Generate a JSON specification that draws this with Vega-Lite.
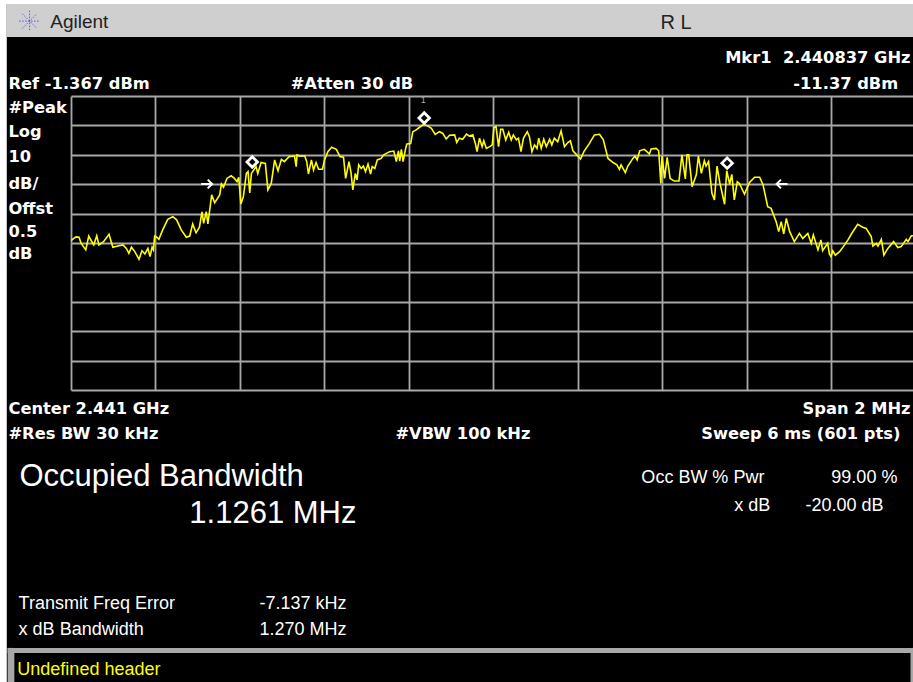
{"$schema":"https://vega.github.io/schema/vega-lite/v6.json","width":842,"height":294,"autosize":"none","padding":{"left":71,"top":96,"right":0,"bottom":292},"background":"#000000","view":{"stroke":null,"fill":"#000000"},
"datasets":{
"trace":[{"freq_khz":0,"level_dbm":-50.6},{"freq_khz":6,"level_dbm":-49.9},{"freq_khz":12,"level_dbm":-49.3},{"freq_khz":19,"level_dbm":-49.4},{"freq_khz":24,"level_dbm":-51.5},{"freq_khz":35,"level_dbm":-53.7},{"freq_khz":42,"level_dbm":-49.0},{"freq_khz":48,"level_dbm":-50.6},{"freq_khz":54,"level_dbm":-52.0},{"freq_khz":61,"level_dbm":-48.9},{"freq_khz":66,"level_dbm":-52.0},{"freq_khz":77,"level_dbm":-50.9},{"freq_khz":90,"level_dbm":-48.4},{"freq_khz":99,"level_dbm":-52.8},{"freq_khz":111,"level_dbm":-52.4},{"freq_khz":123,"level_dbm":-52.0},{"freq_khz":131,"level_dbm":-53.2},{"freq_khz":137,"level_dbm":-54.9},{"freq_khz":143,"level_dbm":-52.8},{"freq_khz":151,"level_dbm":-54.3},{"freq_khz":161,"level_dbm":-56.9},{"freq_khz":168,"level_dbm":-54.0},{"freq_khz":175,"level_dbm":-55.1},{"freq_khz":182,"level_dbm":-53.2},{"freq_khz":187,"level_dbm":-56.0},{"freq_khz":192,"level_dbm":-52.8},{"freq_khz":195,"level_dbm":-53.7},{"freq_khz":198,"level_dbm":-49.0},{"freq_khz":203,"level_dbm":-49.4},{"freq_khz":208,"level_dbm":-50.1},{"freq_khz":217,"level_dbm":-46.9},{"freq_khz":229,"level_dbm":-43.3},{"freq_khz":241,"level_dbm":-42.4},{"freq_khz":250,"level_dbm":-43.5},{"freq_khz":261,"level_dbm":-46.9},{"freq_khz":273,"level_dbm":-49.4},{"freq_khz":281,"level_dbm":-49.0},{"freq_khz":288,"level_dbm":-44.9},{"freq_khz":296,"level_dbm":-47.9},{"freq_khz":304,"level_dbm":-46.0},{"freq_khz":310,"level_dbm":-40.8},{"freq_khz":314,"level_dbm":-44.7},{"freq_khz":320,"level_dbm":-40.7},{"freq_khz":324,"level_dbm":-44.9},{"freq_khz":333,"level_dbm":-35.0},{"freq_khz":340,"level_dbm":-37.7},{"freq_khz":352,"level_dbm":-35.0},{"freq_khz":356,"level_dbm":-31.3},{"freq_khz":361,"level_dbm":-32.4},{"freq_khz":369,"level_dbm":-29.4},{"freq_khz":379,"level_dbm":-28.5},{"freq_khz":387,"level_dbm":-29.4},{"freq_khz":393,"level_dbm":-30.5},{"freq_khz":397,"level_dbm":-29.0},{"freq_khz":402,"level_dbm":-38.1},{"freq_khz":408,"level_dbm":-35.6},{"freq_khz":415,"level_dbm":-27.7},{"freq_khz":419,"level_dbm":-27.1},{"freq_khz":423,"level_dbm":-34.3},{"freq_khz":427,"level_dbm":-27.7},{"freq_khz":438,"level_dbm":-25.4},{"freq_khz":442,"level_dbm":-27.7},{"freq_khz":450,"level_dbm":-24.0},{"freq_khz":460,"level_dbm":-24.3},{"freq_khz":466,"level_dbm":-33.3},{"freq_khz":474,"level_dbm":-31.1},{"freq_khz":482,"level_dbm":-23.1},{"freq_khz":490,"level_dbm":-26.8},{"freq_khz":498,"level_dbm":-22.9},{"freq_khz":505,"level_dbm":-23.7},{"freq_khz":516,"level_dbm":-22.0},{"freq_khz":529,"level_dbm":-21.8},{"freq_khz":533,"level_dbm":-25.4},{"freq_khz":535,"level_dbm":-21.4},{"freq_khz":541,"level_dbm":-21.8},{"freq_khz":553,"level_dbm":-21.7},{"freq_khz":558,"level_dbm":-23.7},{"freq_khz":562,"level_dbm":-27.9},{"freq_khz":569,"level_dbm":-23.1},{"freq_khz":574,"level_dbm":-26.5},{"freq_khz":580,"level_dbm":-24.0},{"freq_khz":586,"level_dbm":-26.3},{"freq_khz":595,"level_dbm":-26.3},{"freq_khz":600,"level_dbm":-23.1},{"freq_khz":608,"level_dbm":-20.3},{"freq_khz":617,"level_dbm":-18.8},{"freq_khz":628,"level_dbm":-19.5},{"freq_khz":637,"level_dbm":-22.0},{"freq_khz":645,"level_dbm":-22.2},{"freq_khz":650,"level_dbm":-29.4},{"freq_khz":658,"level_dbm":-23.7},{"freq_khz":663,"level_dbm":-27.7},{"freq_khz":667,"level_dbm":-33.3},{"freq_khz":673,"level_dbm":-27.7},{"freq_khz":677,"level_dbm":-29.9},{"freq_khz":681,"level_dbm":-24.8},{"freq_khz":687,"level_dbm":-26.0},{"freq_khz":692,"level_dbm":-25.2},{"freq_khz":697,"level_dbm":-27.1},{"freq_khz":703,"level_dbm":-24.5},{"freq_khz":709,"level_dbm":-27.9},{"freq_khz":713,"level_dbm":-25.4},{"freq_khz":719,"level_dbm":-26.0},{"freq_khz":725,"level_dbm":-23.1},{"freq_khz":734,"level_dbm":-22.6},{"freq_khz":740,"level_dbm":-21.4},{"freq_khz":754,"level_dbm":-20.3},{"freq_khz":764,"level_dbm":-20.1},{"freq_khz":770,"level_dbm":-23.7},{"freq_khz":775,"level_dbm":-20.0},{"freq_khz":778,"level_dbm":-23.5},{"freq_khz":782,"level_dbm":-19.5},{"freq_khz":786,"level_dbm":-23.7},{"freq_khz":792,"level_dbm":-19.2},{"freq_khz":795,"level_dbm":-17.7},{"freq_khz":804,"level_dbm":-17.5},{"freq_khz":809,"level_dbm":-13.5},{"freq_khz":817,"level_dbm":-12.9},{"freq_khz":825,"level_dbm":-12.0},{"freq_khz":835,"level_dbm":-11.0},{"freq_khz":845,"level_dbm":-11.6},{"freq_khz":853,"level_dbm":-12.4},{"freq_khz":862,"level_dbm":-14.4},{"freq_khz":872,"level_dbm":-13.5},{"freq_khz":880,"level_dbm":-14.1},{"freq_khz":888,"level_dbm":-16.0},{"freq_khz":896,"level_dbm":-14.7},{"freq_khz":908,"level_dbm":-14.6},{"freq_khz":913,"level_dbm":-17.2},{"freq_khz":919,"level_dbm":-15.7},{"freq_khz":927,"level_dbm":-16.1},{"freq_khz":936,"level_dbm":-14.3},{"freq_khz":943,"level_dbm":-15.0},{"freq_khz":951,"level_dbm":-14.6},{"freq_khz":957,"level_dbm":-17.5},{"freq_khz":961,"level_dbm":-20.3},{"freq_khz":967,"level_dbm":-15.7},{"freq_khz":973,"level_dbm":-18.6},{"freq_khz":977,"level_dbm":-16.6},{"freq_khz":983,"level_dbm":-19.2},{"freq_khz":991,"level_dbm":-18.6},{"freq_khz":997,"level_dbm":-18.0},{"freq_khz":1001,"level_dbm":-12.1},{"freq_khz":1006,"level_dbm":-11.8},{"freq_khz":1012,"level_dbm":-18.6},{"freq_khz":1017,"level_dbm":-12.7},{"freq_khz":1022,"level_dbm":-12.7},{"freq_khz":1029,"level_dbm":-16.3},{"freq_khz":1036,"level_dbm":-13.7},{"freq_khz":1042,"level_dbm":-16.3},{"freq_khz":1047,"level_dbm":-14.6},{"freq_khz":1054,"level_dbm":-16.3},{"freq_khz":1059,"level_dbm":-15.7},{"freq_khz":1065,"level_dbm":-20.3},{"freq_khz":1071,"level_dbm":-15.7},{"freq_khz":1080,"level_dbm":-13.5},{"freq_khz":1085,"level_dbm":-15.2},{"freq_khz":1091,"level_dbm":-20.3},{"freq_khz":1097,"level_dbm":-18.0},{"freq_khz":1103,"level_dbm":-19.2},{"freq_khz":1107,"level_dbm":-15.7},{"freq_khz":1113,"level_dbm":-19.2},{"freq_khz":1119,"level_dbm":-16.1},{"freq_khz":1125,"level_dbm":-18.6},{"freq_khz":1133,"level_dbm":-16.1},{"freq_khz":1138,"level_dbm":-18.0},{"freq_khz":1144,"level_dbm":-15.7},{"freq_khz":1152,"level_dbm":-16.9},{"freq_khz":1160,"level_dbm":-13.2},{"freq_khz":1168,"level_dbm":-18.6},{"freq_khz":1176,"level_dbm":-17.2},{"freq_khz":1182,"level_dbm":-16.6},{"freq_khz":1188,"level_dbm":-20.0},{"freq_khz":1197,"level_dbm":-21.4},{"freq_khz":1206,"level_dbm":-22.8},{"freq_khz":1214,"level_dbm":-20.3},{"freq_khz":1227,"level_dbm":-17.5},{"freq_khz":1239,"level_dbm":-14.6},{"freq_khz":1251,"level_dbm":-14.4},{"freq_khz":1260,"level_dbm":-16.3},{"freq_khz":1271,"level_dbm":-22.6},{"freq_khz":1283,"level_dbm":-24.0},{"freq_khz":1292,"level_dbm":-24.8},{"freq_khz":1298,"level_dbm":-26.3},{"freq_khz":1302,"level_dbm":-24.8},{"freq_khz":1312,"level_dbm":-27.4},{"freq_khz":1318,"level_dbm":-25.2},{"freq_khz":1330,"level_dbm":-22.6},{"freq_khz":1335,"level_dbm":-21.8},{"freq_khz":1340,"level_dbm":-23.1},{"freq_khz":1346,"level_dbm":-20.0},{"freq_khz":1357,"level_dbm":-19.5},{"freq_khz":1363,"level_dbm":-20.3},{"freq_khz":1369,"level_dbm":-21.1},{"freq_khz":1373,"level_dbm":-19.4},{"freq_khz":1385,"level_dbm":-19.2},{"freq_khz":1391,"level_dbm":-20.0},{"freq_khz":1396,"level_dbm":-31.1},{"freq_khz":1399,"level_dbm":-21.8},{"freq_khz":1405,"level_dbm":-29.4},{"freq_khz":1411,"level_dbm":-22.2},{"freq_khz":1418,"level_dbm":-29.4},{"freq_khz":1428,"level_dbm":-30.3},{"freq_khz":1439,"level_dbm":-30.3},{"freq_khz":1446,"level_dbm":-21.4},{"freq_khz":1454,"level_dbm":-29.6},{"freq_khz":1458,"level_dbm":-21.4},{"freq_khz":1462,"level_dbm":-21.4},{"freq_khz":1470,"level_dbm":-32.2},{"freq_khz":1480,"level_dbm":-28.2},{"freq_khz":1485,"level_dbm":-21.8},{"freq_khz":1492,"level_dbm":-27.7},{"freq_khz":1499,"level_dbm":-23.4},{"freq_khz":1503,"level_dbm":-25.2},{"freq_khz":1509,"level_dbm":-23.7},{"freq_khz":1517,"level_dbm":-34.5},{"freq_khz":1523,"level_dbm":-36.7},{"freq_khz":1529,"level_dbm":-25.2},{"freq_khz":1536,"level_dbm":-31.1},{"freq_khz":1547,"level_dbm":-38.2},{"freq_khz":1552,"level_dbm":-26.8},{"freq_khz":1559,"level_dbm":-31.3},{"freq_khz":1564,"level_dbm":-28.0},{"freq_khz":1570,"level_dbm":-36.7},{"freq_khz":1577,"level_dbm":-30.5},{"freq_khz":1582,"level_dbm":-31.1},{"freq_khz":1594,"level_dbm":-34.7},{"freq_khz":1606,"level_dbm":-30.8},{"freq_khz":1618,"level_dbm":-29.0},{"freq_khz":1630,"level_dbm":-29.0},{"freq_khz":1638,"level_dbm":-31.6},{"freq_khz":1649,"level_dbm":-39.0},{"freq_khz":1657,"level_dbm":-39.6},{"freq_khz":1669,"level_dbm":-44.1},{"freq_khz":1675,"level_dbm":-47.5},{"freq_khz":1681,"level_dbm":-44.1},{"freq_khz":1687,"level_dbm":-48.3},{"freq_khz":1693,"level_dbm":-43.0},{"freq_khz":1701,"level_dbm":-47.5},{"freq_khz":1703,"level_dbm":-48.1},{"freq_khz":1712,"level_dbm":-50.9},{"freq_khz":1724,"level_dbm":-48.1},{"freq_khz":1732,"level_dbm":-49.8},{"freq_khz":1744,"level_dbm":-48.1},{"freq_khz":1752,"level_dbm":-51.5},{"freq_khz":1757,"level_dbm":-48.6},{"freq_khz":1768,"level_dbm":-53.7},{"freq_khz":1775,"level_dbm":-50.3},{"freq_khz":1779,"level_dbm":-54.0},{"freq_khz":1791,"level_dbm":-51.5},{"freq_khz":1795,"level_dbm":-55.1},{"freq_khz":1799,"level_dbm":-56.0},{"freq_khz":1803,"level_dbm":-54.0},{"freq_khz":1809,"level_dbm":-55.5},{"freq_khz":1819,"level_dbm":-54.3},{"freq_khz":1831,"level_dbm":-52.0},{"freq_khz":1839,"level_dbm":-50.3},{"freq_khz":1847,"level_dbm":-48.3},{"freq_khz":1862,"level_dbm":-45.0},{"freq_khz":1874,"level_dbm":-46.0},{"freq_khz":1882,"level_dbm":-46.4},{"freq_khz":1894,"level_dbm":-49.2},{"freq_khz":1898,"level_dbm":-52.4},{"freq_khz":1906,"level_dbm":-51.5},{"freq_khz":1910,"level_dbm":-52.4},{"freq_khz":1918,"level_dbm":-50.1},{"freq_khz":1924,"level_dbm":-55.5},{"freq_khz":1931,"level_dbm":-53.7},{"freq_khz":1937,"level_dbm":-52.6},{"freq_khz":1947,"level_dbm":-50.9},{"freq_khz":1957,"level_dbm":-52.9},{"freq_khz":1965,"level_dbm":-52.6},{"freq_khz":1977,"level_dbm":-50.1},{"freq_khz":1981,"level_dbm":-50.9},{"freq_khz":1989,"level_dbm":-48.9},{"freq_khz":1993,"level_dbm":-48.9}],
"white_bands":[{"freq_khz":-169,"freq_end":-152,"level_dbm":32,"level_end":-201},{"freq_khz":-169,"freq_end":2000,"level_dbm":32,"level_end":29.9}],
"title_bar":[{"freq_khz":-152,"freq_end":2000,"level_dbm":29.9,"level_end":18.7}],
"frame":[{"freq_khz":-150,"freq_end":2000,"level_dbm":-189.1,"level_end":-190.8},{"freq_khz":-150,"freq_end":-134,"level_dbm":-189.1,"level_end":-201},{"freq_khz":1987,"freq_end":2000,"level_dbm":-189.1,"level_end":-201}],
"bold_left":[{"label":"Ref -1.367 dBm","freq_khz":-148,"level_dbm":3.05},{"label":"#Atten 30 dB","freq_khz":520,"level_dbm":3.05},{"label":"#Peak","freq_khz":-148,"level_dbm":-5.11},{"label":"Log","freq_khz":-148,"level_dbm":-13.61},{"label":"10","freq_khz":-148,"level_dbm":-22.11},{"label":"dB/","freq_khz":-148,"level_dbm":-30.96},{"label":"Offst","freq_khz":-148,"level_dbm":-39.8},{"label":"0.5","freq_khz":-148,"level_dbm":-47.6},{"label":"dB","freq_khz":-148,"level_dbm":-55.1},{"label":"Center 2.441 GHz","freq_khz":-148,"level_dbm":-107.5},{"label":"#Res BW 30 kHz","freq_khz":-148,"level_dbm":-116},{"label":"#VBW 100 kHz","freq_khz":768,"level_dbm":-116}],
"bold_right":[{"label":"Mkr1\u00a0\u00a02.440837 GHz","freq_khz":1987,"level_dbm":11.56},{"label":"-11.37 dBm","freq_khz":1958,"level_dbm":3.05},{"label":"Span 2 MHz","freq_khz":1987,"level_dbm":-107.5},{"label":"Sweep 6 ms (601 pts)","freq_khz":1963,"level_dbm":-116}],
"big":[{"label":"Occupied Bandwidth","freq_khz":-122,"level_dbm":-130.6},{"label":"1.1261 MHz","freq_khz":280,"level_dbm":-143.2}],
"small_left":[{"label":"Occ BW % Pwr","freq_khz":1350,"level_dbm":-131},{"label":"x dB","freq_khz":1570,"level_dbm":-140.5},{"label":"Transmit Freq Error","freq_khz":-124,"level_dbm":-173.8},{"label":"-7.137 kHz","freq_khz":446,"level_dbm":-173.8},{"label":"x dB Bandwidth","freq_khz":-124,"level_dbm":-182.6},{"label":"1.270 MHz","freq_khz":446,"level_dbm":-182.6}],
"small_right":[{"label":"99.00 %","freq_khz":1956,"level_dbm":-131},{"label":"-20.00 dB","freq_khz":1923,"level_dbm":-140.5}],
"header":[{"label":"Undefined header","freq_khz":-127,"level_dbm":-196.2}],
"brand":[{"label":"Agilent","freq_khz":-49,"level_dbm":23.8}],
"status":[{"label":"R L","freq_khz":1395,"level_dbm":23.5}],
"logo":[{"freq_khz":-98,"level_dbm":24.1}],
"markers":[{"freq_khz":836,"level_dbm":-8.85},{"freq_khz":429,"level_dbm":-23.8},{"freq_khz":1553,"level_dbm":-24.2}],
"marker_no":[{"label":"1","freq_khz":834,"level_dbm":-2.7}],
"arrow_right":[{"freq_khz":321,"level_dbm":-31.3}],
"arrow_left":[{"freq_khz":1683,"level_dbm":-31.3}]
},
"encoding":{
"x":{"field":"freq_khz","type":"quantitative","title":null,"scale":{"domain":[0,1992.9],"nice":false,"zero":false},"axis":{"values":[0,200,400,600,800,1000,1200,1400,1600,1800],"labels":false,"ticks":false,"domain":false,"title":null,"grid":true,"gridColor":"#a8a8a8","gridWidth":1.8,"gridOpacity":1}},
"y":{"field":"level_dbm","type":"quantitative","title":null,"scale":{"domain":[-101.367,-1.367],"nice":false,"zero":false},"axis":{"values":[-1.367,-11.367,-21.367,-31.367,-41.367,-51.367,-61.367,-71.367,-81.367,-91.367,-101.367],"labels":false,"ticks":false,"domain":false,"title":null,"grid":true,"gridColor":"#a8a8a8","gridWidth":1.8,"gridOpacity":1}}
},
"layer":[
{"data":{"name":"white_bands"},"mark":{"type":"rect","color":"#ffffff"},"encoding":{"x2":{"field":"freq_end"},"y2":{"field":"level_end"}}},
{"data":{"name":"title_bar"},"mark":{"type":"rect","color":"#cfcfcf"},"encoding":{"x2":{"field":"freq_end"},"y2":{"field":"level_end"}}},
{"data":{"name":"frame"},"mark":{"type":"rect","color":"#a8a8a8"},"encoding":{"x2":{"field":"freq_end"},"y2":{"field":"level_end"}}},
{"data":{"name":"trace"},"mark":{"type":"line","color":"#ffff00","strokeWidth":1.6,"clip":true}},
{"data":{"name":"markers"},"mark":{"type":"point","shape":"diamond","filled":false,"stroke":"#ffffff","strokeWidth":2.8,"size":110,"opacity":1}},
{"data":{"name":"arrow_right"},"mark":{"type":"point","shape":"M-1,0L1,0M0.2,-0.8L1,0L0.2,0.8","filled":false,"stroke":"#ffffff","strokeWidth":2,"size":120,"opacity":1}},
{"data":{"name":"arrow_left"},"mark":{"type":"point","shape":"M-1,0L1,0M-0.2,-0.8L-1,0L-0.2,0.8","filled":false,"stroke":"#ffffff","strokeWidth":2,"size":120,"opacity":1}},
{"data":{"name":"logo"},"mark":{"type":"point","shape":"M-1,0L1,0M0,-1L0,1M-0.7,-0.7L0.7,0.7M-0.7,0.7L0.7,-0.7","filled":false,"stroke":"#5a5ae6","strokeWidth":1,"strokeDash":[1.5,1.5],"size":440,"opacity":1}},
{"data":{"name":"marker_no"},"mark":{"type":"text","font":"Liberation Sans","fontSize":9,"color":"#a8a8a8","align":"center","baseline":"middle"},"encoding":{"text":{"field":"label"}}},
{"data":{"name":"bold_left"},"mark":{"type":"text","font":"DejaVu Sans","fontWeight":"bold","fontSize":16.3,"color":"#ffffff","align":"left","baseline":"middle","dy":0.5},"encoding":{"text":{"field":"label"}}},
{"data":{"name":"bold_right"},"mark":{"type":"text","font":"DejaVu Sans","fontWeight":"bold","fontSize":16.3,"color":"#ffffff","align":"right","baseline":"middle","dy":0.5},"encoding":{"text":{"field":"label"}}},
{"data":{"name":"big"},"mark":{"type":"text","font":"Liberation Sans","fontSize":31,"color":"#ffffff","align":"left","baseline":"middle","dy":1.5},"encoding":{"text":{"field":"label"}}},
{"data":{"name":"small_left"},"mark":{"type":"text","font":"Liberation Sans","fontSize":18,"color":"#ffffff","align":"left","baseline":"middle","dy":1},"encoding":{"text":{"field":"label"}}},
{"data":{"name":"small_right"},"mark":{"type":"text","font":"Liberation Sans","fontSize":18,"color":"#ffffff","align":"right","baseline":"middle","dy":1},"encoding":{"text":{"field":"label"}}},
{"data":{"name":"header"},"mark":{"type":"text","font":"Liberation Sans","fontSize":18,"color":"#ffff00","align":"left","baseline":"middle","dy":1},"encoding":{"text":{"field":"label"}}},
{"data":{"name":"brand"},"mark":{"type":"text","font":"Liberation Sans","fontSize":19,"color":"#222222","align":"left","baseline":"middle"},"encoding":{"text":{"field":"label"}}},
{"data":{"name":"status"},"mark":{"type":"text","font":"Liberation Sans","fontSize":20,"color":"#222222","align":"left","baseline":"middle"},"encoding":{"text":{"field":"label"}}}
]}
